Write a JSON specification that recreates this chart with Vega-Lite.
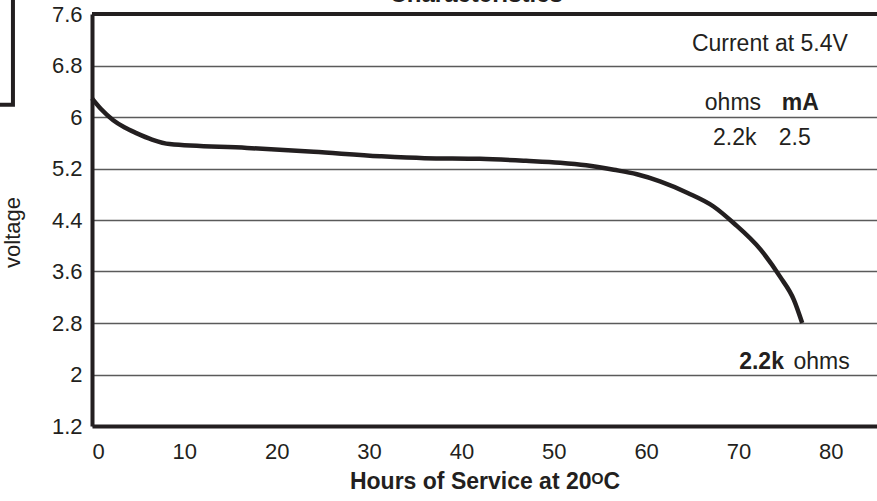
{
  "$schema": "https://vega.github.io/schema/vega-lite/v6.json",
  "width": 785,
  "height": 412,
  "autosize": "none",
  "padding": {"left": 92, "top": 14, "right": 0, "bottom": 75},
  "background": "white",
  "config": {"view": {"stroke": null}},
  "datasets": {
    "curve": [
      {"hours": 0, "volts": 6.29},
      {"hours": 1, "volts": 6.12},
      {"hours": 2.3, "volts": 5.95},
      {"hours": 3.5, "volts": 5.84},
      {"hours": 4.8, "volts": 5.75},
      {"hours": 6.5, "volts": 5.65},
      {"hours": 8.4, "volts": 5.58},
      {"hours": 16.8, "volts": 5.52},
      {"hours": 24, "volts": 5.46},
      {"hours": 31.2, "volts": 5.39},
      {"hours": 36, "volts": 5.36},
      {"hours": 42, "volts": 5.35},
      {"hours": 47, "volts": 5.32},
      {"hours": 50.7, "volts": 5.29},
      {"hours": 53.5, "volts": 5.25},
      {"hours": 56.5, "volts": 5.18},
      {"hours": 59, "volts": 5.11},
      {"hours": 61.5, "volts": 5.0},
      {"hours": 64.5, "volts": 4.82},
      {"hours": 67.3, "volts": 4.61},
      {"hours": 69.5, "volts": 4.35},
      {"hours": 72.4, "volts": 3.94},
      {"hours": 74.5, "volts": 3.52},
      {"hours": 76.0, "volts": 3.16},
      {"hours": 76.9, "volts": 2.8}
    ],
    "notes": [
      {"hours": 73.4, "volts": 7.13, "label": "Current at 5.4V"},
      {"hours": 69.4, "volts": 6.21, "label": "ohms"},
      {"hours": 69.6, "volts": 5.68, "label": "2.2k"},
      {"hours": 76.1, "volts": 5.68, "label": "2.5"},
      {"hours": 79.0, "volts": 2.2, "label": "ohms"}
    ],
    "boldNotes": [
      {"hours": 76.7, "volts": 6.21, "label": "mA"},
      {"hours": 72.5, "volts": 2.2, "label": "2.2k"}
    ],
    "single": [{}]
  },
  "layer": [
    {
      "data": {"name": "curve"},
      "mark": {"type": "line", "color": "#231f20", "strokeWidth": 4.5, "interpolate": "monotone", "strokeCap": "butt"},
      "encoding": {
        "x": {
          "field": "hours",
          "type": "quantitative",
          "scale": {"domain": [0, 85], "nice": false, "zero": false},
          "axis": {
            "values": [0, 10, 20, 30, 40, 50, 60, 70, 80],
            "title": "Hours of Service at 20ᴼC",
            "titleFont": "Liberation Sans",
            "titleFontSize": 23,
            "titleFontWeight": "bold",
            "titleColor": "#231f20",
            "titlePadding": 8,
            "labelFont": "Liberation Sans",
            "labelFontSize": 22,
            "labelColor": "#231f20",
            "labelPadding": 15,
            "ticks": false,
            "grid": false,
            "domainColor": "#231f20",
            "domainWidth": 4
          }
        },
        "y": {
          "field": "volts",
          "type": "quantitative",
          "scale": {"domain": [1.2, 7.6], "nice": false, "zero": false},
          "axis": {
            "values": [1.2, 2, 2.8, 3.6, 4.4, 5.2, 6, 6.8, 7.6],
            "format": "~g",
            "title": "voltage",
            "titleFont": "Liberation Sans",
            "titleFontSize": 22,
            "titleFontWeight": "normal",
            "titleColor": "#231f20",
            "titleX": -68,
            "titleY": 218,
            "labelFont": "Liberation Sans",
            "labelFontSize": 22,
            "labelColor": "#231f20",
            "labelPadding": 10,
            "ticks": false,
            "grid": true,
            "gridColor": "#5a5a5a",
            "gridWidth": 1.5,
            "domainColor": "#231f20",
            "domainWidth": 4
          }
        }
      }
    },
    {
      "data": {"name": "single"},
      "mark": {"type": "rule", "color": "#231f20", "strokeWidth": 4},
      "encoding": {"y": {"datum": 7.6, "type": "quantitative"}}
    },
    {
      "data": {"name": "notes"},
      "mark": {"type": "text", "font": "Liberation Sans", "fontSize": 23, "color": "#231f20", "align": "center", "baseline": "middle"},
      "encoding": {
        "x": {"field": "hours", "type": "quantitative"},
        "y": {"field": "volts", "type": "quantitative"},
        "text": {"field": "label"}
      }
    },
    {
      "data": {"name": "boldNotes"},
      "mark": {"type": "text", "font": "Liberation Sans", "fontSize": 23, "fontWeight": "bold", "color": "#231f20", "align": "center", "baseline": "middle"},
      "encoding": {
        "x": {"field": "hours", "type": "quantitative"},
        "y": {"field": "volts", "type": "quantitative"},
        "text": {"field": "label"}
      }
    },
    {
      "data": {"name": "single"},
      "mark": {"type": "text", "font": "Liberation Sans", "fontSize": 24, "fontWeight": "bold", "color": "#231f20", "align": "center", "baseline": "alphabetic", "dy": -12, "text": "Characteristics"},
      "encoding": {
        "x": {"datum": 41.6, "type": "quantitative"},
        "y": {"datum": 7.6, "type": "quantitative"}
      }
    },
    {
      "data": {"name": "single"},
      "mark": {"type": "rect", "fill": null, "stroke": "#231f20", "strokeWidth": 4},
      "encoding": {
        "x": {"datum": -20, "type": "quantitative"},
        "x2": {"datum": -8.56},
        "y": {"datum": 6.19, "type": "quantitative"},
        "y2": {"datum": 9}
      }
    }
  ]
}
